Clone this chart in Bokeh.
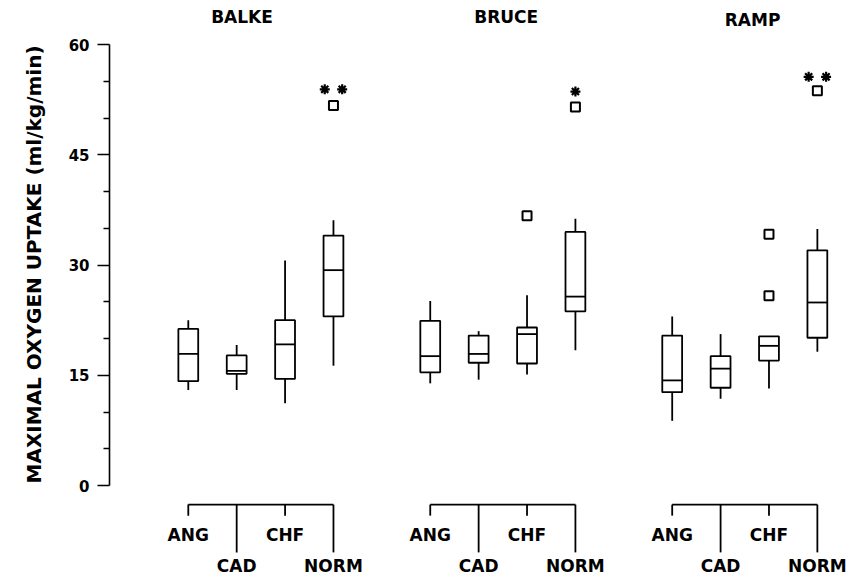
from bokeh.plotting import figure
from bokeh.models import Range1d, LinearAxis, FixedTicker, ColumnDataSource, Title
from bokeh.core.properties import value
from bokeh.embed import file_html
from bokeh.resources import INLINE

# ---------------- data ----------------
groups = ["BALKE", "BRUCE", "RAMP"]
categories = ["ANG", "CAD", "CHF", "NORM"]

# per group, per category: lower whisker, Q1, median, Q3, upper whisker
balke_low = [13.0, 13.0, 11.2, 16.3]
balke_q1 = [14.2, 15.2, 14.5, 23.0]
balke_med = [17.9, 15.6, 19.2, 29.3]
balke_q3 = [21.3, 17.7, 22.5, 34.0]
balke_high = [22.5, 19.1, 30.6, 36.1]

bruce_low = [13.9, 14.4, 15.1, 18.4]
bruce_q1 = [15.4, 16.7, 16.6, 23.7]
bruce_med = [17.6, 17.9, 20.6, 25.7]
bruce_q3 = [22.4, 20.4, 21.5, 34.5]
bruce_high = [25.1, 21.0, 25.9, 36.3]

ramp_low = [8.8, 11.8, 13.2, 18.2]
ramp_q1 = [12.7, 13.3, 17.0, 20.1]
ramp_med = [14.3, 15.9, 19.0, 24.9]
ramp_q3 = [20.4, 17.6, 20.3, 32.0]
ramp_high = [23.0, 20.6, 20.3, 34.9]

# outliers: (group, category, value)
outlier_group = ["BALKE", "BRUCE", "BRUCE", "RAMP", "RAMP", "RAMP"]
outlier_cat = ["NORM", "CHF", "NORM", "CHF", "CHF", "NORM"]
outlier_val = [51.7, 36.7, 51.5, 34.2, 25.8, 53.7]

# significance stars above NORM
star_count = [2, 1, 2]
star_level = [53.9, 53.6, 55.6]

y_ticks = [0, 15, 30, 45, 60]
y_minor = [5, 10, 20, 25, 35, 40, 50, 55]
y_title = "MAXIMAL OXYGEN UPTAKE (ml/kg/min)"

# ---------------- layout ----------------
GROUP_STEP = 5
BOX_W = 0.41
FONT = "DejaVu Sans"
LW = 1.8

stats = {
    "BALKE": (balke_low, balke_q1, balke_med, balke_q3, balke_high),
    "BRUCE": (bruce_low, bruce_q1, bruce_med, bruce_q3, bruce_high),
    "RAMP": (ramp_low, ramp_q1, ramp_med, ramp_q3, ramp_high),
}

def xpos(g, c):
    return groups.index(g) * GROUP_STEP + categories.index(c)

xs, lows, q1s, meds, q3s, highs = [], [], [], [], [], []
for g in groups:
    lo, q1, md, q3, hi = stats[g]
    for i, c in enumerate(categories):
        xs.append(xpos(g, c))
        lows.append(lo[i]); q1s.append(q1[i]); meds.append(md[i])
        q3s.append(q3[i]); highs.append(hi[i])

src = ColumnDataSource(dict(
    x=xs, low=lows, q1=q1s, med=meds, q3=q3s, high=highs,
    x0=[x - BOX_W / 2 for x in xs], x1=[x + BOX_W / 2 for x in xs],
))

PX_X = 48.52   # px per x unit
PX_Y = 7.35    # px per y unit
W, H = 858, 580
LEFT = 107
x0_canvas = 186  # canvas px of x = 0
y0_canvas = 485  # canvas px of y = 0

p = figure(
    width=W, height=H, output_backend="svg", toolbar_location=None,
    x_range=Range1d((LEFT - x0_canvas) / PX_X, (W - x0_canvas) / PX_X),
    y_range=Range1d(-(H - y0_canvas) / PX_Y, y0_canvas / PX_Y),
    x_axis_location=None, y_axis_location=None,
    min_border_left=LEFT, min_border_right=0, min_border_top=0, min_border_bottom=0,
)
p.outline_line_color = None
for g in p.grid:
    g.visible = False

yaxis = LinearAxis(
    ticker=FixedTicker(ticks=y_ticks, minor_ticks=y_minor),
    bounds=(0, 60),
    axis_line_color="black", axis_line_width=1.6,
    major_tick_in=0, major_tick_out=12, major_tick_line_width=1.6,
    minor_tick_in=0, minor_tick_out=6, minor_tick_line_width=1.4,
    major_label_standoff=8,
    major_label_text_font=FONT, major_label_text_font_style="bold",
    major_label_text_font_size="15px", major_label_text_color="black",
)
p.add_layout(yaxis, "left")

p.add_layout(Title(
    text=y_title, align="left", offset=97, standoff=39,
    text_font=FONT, text_font_style="bold", text_font_size="20px", text_color="black",
), "left")

# whiskers
p.segment(x0="x", y0="q3", x1="x", y1="high", source=src, line_color="black", line_width=LW)
p.segment(x0="x", y0="low", x1="x", y1="q1", source=src, line_color="black", line_width=LW)
# boxes
p.vbar(x="x", width=BOX_W, bottom="q1", top="q3", source=src,
       fill_color="white", line_color="black", line_width=LW)
# medians
p.segment(x0="x0", y0="med", x1="x1", y1="med", source=src, line_color="black", line_width=LW)

# outliers
p.scatter([xpos(g, c) for g, c in zip(outlier_group, outlier_cat)], outlier_val,
          marker="square", size=9, fill_color=None, line_color="black", line_width=2)

# stars
sx, sy = [], []
for gi, (n, lvl) in enumerate(zip(star_count, star_level)):
    base = xpos(groups[gi], "NORM")
    offs = [0.0] if n == 1 else [-0.18, 0.18]
    for o in offs:
        sx.append(base + o); sy.append(lvl)
p.scatter(sx, sy, marker="asterisk", size=10, line_color="black", line_width=2.2)

# category brackets below
BR_Y = -2.6
SHORT_Y = -4.1
LONG_Y = -9.1
bx0, by0, bx1, by1 = [], [], [], []
lx, ly, lt = [], [], []
for g in groups:
    xa = xpos(g, categories[0]); xb = xpos(g, categories[-1])
    bx0.append(xa); by0.append(BR_Y); bx1.append(xb); by1.append(BR_Y)
    for i, c in enumerate(categories):
        xc = xpos(g, c)
        end = SHORT_Y if i % 2 == 0 else LONG_Y
        bx0.append(xc); by0.append(BR_Y); bx1.append(xc); by1.append(end)
        lx.append(xc); ly.append(-6.8 if i % 2 == 0 else -11.0); lt.append(c)
p.segment(bx0, by0, bx1, by1, line_color="black", line_width=LW)
p.text(lx, ly, text=lt, text_font=value(FONT), text_font_style="bold",
       text_font_size="17px", text_align="center", text_baseline="middle", text_color="black")

# group titles
title_x = [1.11, 6.57, 11.66]
title_y = [63.8, 63.8, 63.4]
p.text(title_x, title_y, text=groups, text_font=value(FONT), text_font_style="bold",
       text_font_size="17px", text_align="center", text_baseline="middle", text_color="black")

open("out.html", "w").write(file_html(p, INLINE))
